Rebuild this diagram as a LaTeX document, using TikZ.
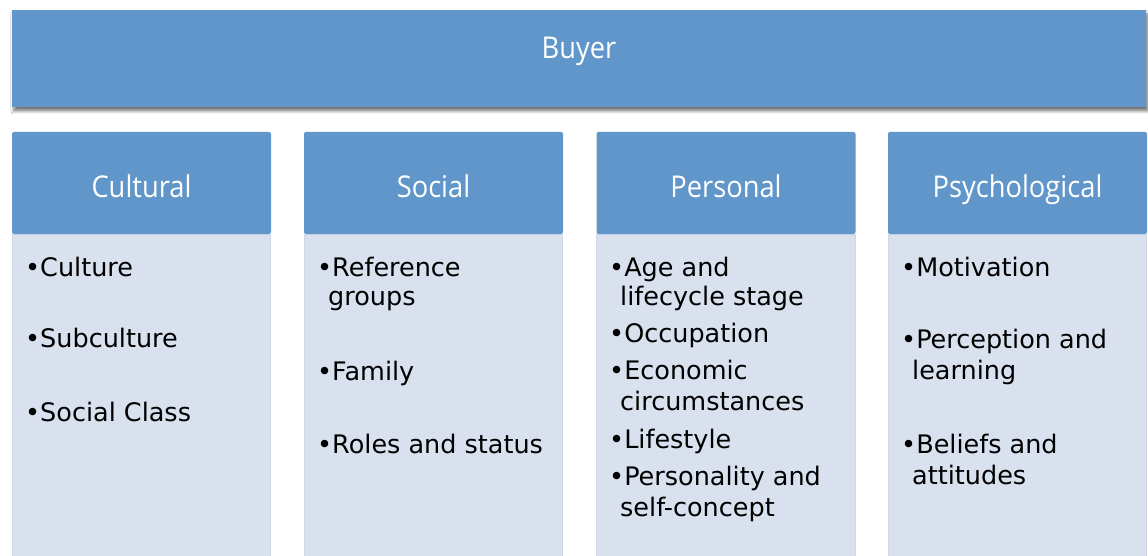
\documentclass[tikz,border=0pt]{standalone}
\usepackage{fontspec}
\setmainfont{DejaVu Sans}
\newfontfamily\hdrfont{Open Sans}[FakeStretch=0.91]
\usetikzlibrary{shadows.blur}
\definecolor{hdrblue}{RGB}{96,150,201}
\definecolor{bodyfill}{RGB}{218,225,238}
\definecolor{bodyline}{RGB}{207,215,232}
\tikzset{
  buyerbox/.style={fill=hdrblue, draw=none, minimum width=1134pt, minimum height=97pt,
    text=white, font=\hdrfont\fontsize{30}{32}\selectfont, text height=10pt, text depth=9pt,
    blur shadow={shadow xshift=2pt, shadow yshift=-4pt, shadow blur radius=3pt, shadow blur steps=8, shadow opacity=55}},
  hdrbox/.style={fill=hdrblue, draw=none, rounded corners=2pt, minimum width=259pt, minimum height=102pt,
    text=white, font=\hdrfont\fontsize{30}{32}\selectfont, text height=28pt, text depth=0pt},
  bodybox/.style={fill=bodyfill, draw=bodyline, line width=1pt},
  item/.style={anchor=base west, inner sep=0pt, text=black, font=\fontsize{25.5}{29}\selectfont},
}
\begin{document}
\begin{tikzpicture}[x=1pt,y=-1pt]
\useasboundingbox (0,0) rectangle (1148,556);
\clip (0,0) rectangle (1148,556);
\fill[white] (0,0) rectangle (1148,556);
\node[buyerbox] (buyer) at (579,58.5) {Buyer};
% bodies
\draw[bodybox] (12.5,234) rectangle (270.5,570);
\draw[bodybox] (304.5,234) rectangle (562.5,570);
\draw[bodybox] (596.5,234) rectangle (855.5,570);
\draw[bodybox] (888.5,234) rectangle (1146.5,570);
% headers
\node[hdrbox] (cult) at (141.5,183) {Cultural};
\node[hdrbox] (soc) at (433.5,183) {Social};
\node[hdrbox] (pers) at (726,183) {Personal};
\node[hdrbox] (psy) at (1017.5,183) {Psychological};
% cultural
\node[item] (c1) at (25,276) {•Culture};
\node[item] (c2) at (25,347) {•Subculture};
\node[item] (c3) at (25,421) {•Social Class};
% social
\node[item] (s1) at (317,276) {•Reference};
\node[item] (s1b) at (328,305) {groups};
\node[item] (s2) at (317,380) {•Family};
\node[item] (s3) at (317,453) {•Roles and status};
% personal
\node[item] (p1) at (609,276) {•Age and};
\node[item] (p1b) at (620,305) {lifecycle stage};
\node[item] (p2) at (609,342) {•Occupation};
\node[item] (p3) at (609,379) {•Economic};
\node[item] (p3b) at (620,410) {circumstances};
\node[item] (p4) at (609,448) {•Lifestyle};
\node[item] (p5) at (609,485) {•Personality and};
\node[item] (p5b) at (620,516) {self-concept};
% psychological
\node[item] (y1) at (901,276) {•Motivation};
\node[item] (y2) at (901,348) {•Perception and};
\node[item] (y2b) at (912,379) {learning};
\node[item] (y3) at (901,453) {•Beliefs and};
\node[item] (y3b) at (912,484) {attitudes};
\end{tikzpicture}
\end{document}
